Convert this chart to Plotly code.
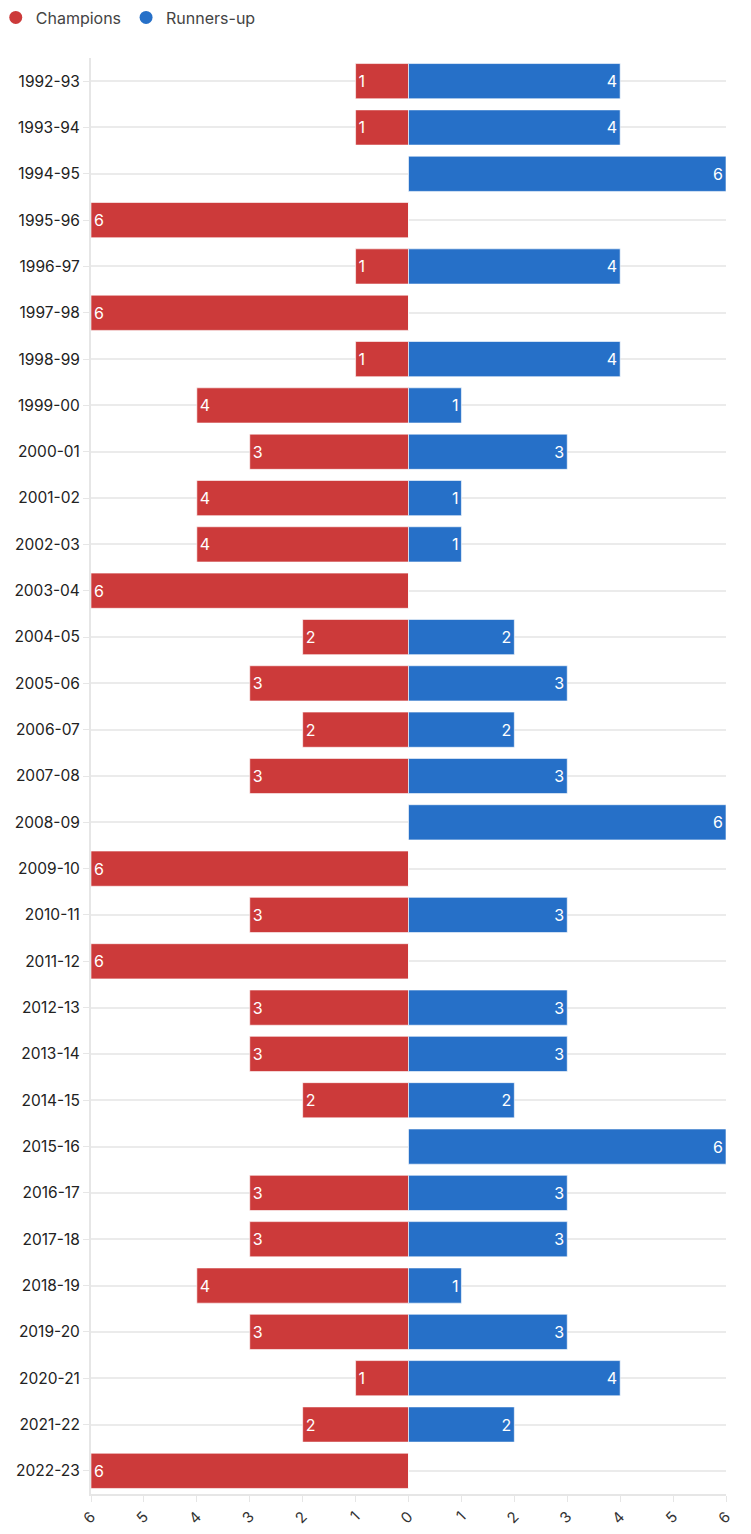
import plotly.graph_objects as go

seasons = ["1992-93","1993-94","1994-95","1995-96","1996-97","1997-98","1998-99","1999-00",
           "2000-01","2001-02","2002-03","2003-04","2004-05","2005-06","2006-07","2007-08",
           "2008-09","2009-10","2010-11","2011-12","2012-13","2013-14","2014-15","2015-16",
           "2016-17","2017-18","2018-19","2019-20","2020-21","2021-22","2022-23"]
champions = [1,1,0,6,1,6,1,4,3,4,4,6,2,3,2,3,0,6,3,6,3,3,2,0,3,3,4,3,1,2,6]
runners_up = [4,4,6,0,4,0,4,1,3,1,1,0,2,3,2,3,6,0,3,0,3,3,2,6,3,3,1,3,4,2,0]
tick_vals = [-6,-5,-4,-3,-2,-1,0,1,2,3,4,5,6]
tick_text = ["6","5","4","3","2","1","0","1","2","3","4","5","6"]

RED = "#cc3a3a"
BLUE = "#2670c8"
FONT = "Inter"

fig = go.Figure()
fig.add_trace(go.Bar(
    name="Champions", y=seasons, x=[-v for v in champions], orientation="h",
    marker=dict(color=RED, line=dict(color="rgba(255,255,255,0.6)", width=1)),
    text=[str(v) if v else "" for v in champions], textposition="inside",
    insidetextanchor="end", textfont=dict(color="white", size=16, family=FONT),
    showlegend=False,
))
fig.add_trace(go.Bar(
    name="Runners-up", y=seasons, x=runners_up, orientation="h",
    marker=dict(color=BLUE, line=dict(color="rgba(255,255,255,0.6)", width=1)),
    text=[str(v) if v else "" for v in runners_up], textposition="inside",
    insidetextanchor="end", textfont=dict(color="white", size=16, family=FONT),
    showlegend=False,
))
for nm, col in [("Champions", RED), ("Runners-up", BLUE)]:
    fig.add_trace(go.Scatter(
        name=nm, x=[None], y=[None], mode="markers",
        marker=dict(symbol="circle", size=13, color=col),
    ))

fig.update_layout(
    width=735, height=1526,
    barmode="relative", bargap=0.24,
    plot_bgcolor="white", paper_bgcolor="white",
    font=dict(family=FONT, size=15, color="#222"),
    margin=dict(l=83, r=17, t=50, b=40, autoexpand=False),
    legend=dict(orientation="h", x=-0.15, xanchor="left", y=1.04, yanchor="top",
                font=dict(size=16, color="#444"), itemwidth=30, tracegroupgap=0),
    showlegend=True,
    xaxis=dict(range=[-6, 6], tickvals=tick_vals, ticktext=tick_text, tickangle=-45,
               showgrid=False, zeroline=False, showline=True, linecolor="#e6e6e6",
               linewidth=2, ticks="outside", tickcolor="#e6e6e6", ticklen=6,
               tickfont=dict(size=15, color="#333"), automargin=False),
    yaxis=dict(type="category", categoryorder="array", categoryarray=seasons,
               autorange="reversed", showgrid=True, gridcolor="#ebebeb", gridwidth=2,
               showline=True, linecolor="#e6e6e6", linewidth=2, ticks="outside",
               tickcolor="#e6e6e6", ticklen=6, tickfont=dict(size=15.5, color="#222"),
               zeroline=False, automargin=False),
)
fig.write_html("out.html")
